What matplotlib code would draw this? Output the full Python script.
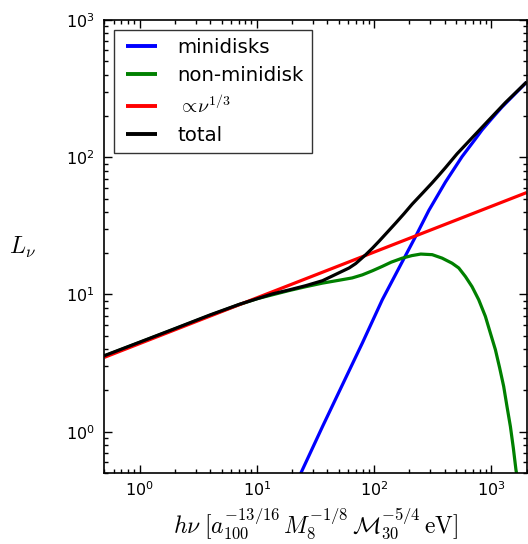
import matplotlib
matplotlib.use("Agg")
import matplotlib.pyplot as plt
from matplotlib.ticker import LogLocator
from matplotlib.lines import Line2D
from matplotlib.legend_handler import HandlerLine2D

plt.rcParams["mathtext.fontset"] = "cm"
plt.rcParams["font.family"] = ["DejaVu Sans"]

# Photon energy (h nu) and luminosity samples for each spectral component
nu_mini = [23.5, 36.3, 53.7, 79.4, 117.4, 173.7, 226, 293, 406, 562, 731, 832, 1012,
           1230, 1946, 2000]
L_mini = [0.49, 1.09, 2.20, 4.43, 9.15, 17.3, 26.5, 41.0, 66.0, 101, 136, 158, 192,
          232, 345, 353]

nu_nonmini = [0.5, 1.0, 2.0, 4.0, 7.1, 10, 13.6, 19, 26.2, 36.3, 50.3, 65, 79.4, 97,
              117, 140, 174, 210, 250, 313, 380, 462, 527, 601, 684, 780, 889, 980,
              1082, 1177, 1273, 1358, 1453, 1539, 1619, 1650]
L_nonmini = [3.56, 4.47, 5.61, 7.05, 8.45, 9.3, 9.95, 10.7, 11.4, 12.1, 12.7, 13.2, 13.9, 14.9,
             16.0, 17.2, 18.4, 19.2, 19.7, 19.5, 18.4, 16.9, 15.6, 13.5, 11.4, 9.15, 6.92, 5.24,
             3.96, 2.91, 2.14, 1.53, 1.09, 0.76, 0.53, 0.48]

nu_pow = [0.5, 2000]
L_pow = [3.48, 55.3]

nu_tot = [0.5, 1.0, 2.0, 4.0, 7.1, 13.6, 18.9, 26.2, 36.3, 50.3, 61.2, 69.7, 84.9, 97,
          110, 130, 153, 180, 211, 260, 312, 357, 406, 510, 731, 948, 1316, 2000]
L_tot = [3.58, 4.49, 5.64, 7.10, 8.48, 10.1, 10.8, 11.6, 12.6, 14.4, 15.6, 16.8, 19.5, 21.8,
         24.4, 28.5, 33.2, 38.8, 45.5, 55.0, 65.0, 74.0, 84.0, 106, 147, 186, 250, 354]

labels = ["minidisks", "non-minidisk", r"$\propto\!\nu^{1/3}$", "total"]
colors = ["blue", "green", "red", "black"]

fig = plt.figure(figsize=(5.28, 5.44), dpi=100)
ax = fig.add_axes([0.1975, 0.1305, 0.8, 0.8327])

series = [(nu_mini, L_mini), (nu_nonmini, L_nonmini), (nu_pow, L_pow), (nu_tot, L_tot)]
for (x, y), lab, c in zip(series, labels, colors):
    ax.plot(x, y, color=c, lw=2.3, label=lab, solid_capstyle="butt",
            solid_joinstyle="round")

ax.set_xscale("log")
ax.set_yscale("log")
ax.set_xlim(0.5, 2000)
ax.set_ylim(0.5, 1000)

ax.xaxis.set_minor_locator(LogLocator(base=10, subs=range(2, 10), numticks=20))
ax.yaxis.set_minor_locator(LogLocator(base=10, subs=range(2, 10), numticks=20))
ax.tick_params(which="both", direction="in", top=True, right=True, labelsize=11.5, width=1)
ax.tick_params(which="major", length=6)
ax.tick_params(which="minor", length=3)
ax.tick_params(axis="x", which="major", pad=5)
ax.tick_params(axis="y", which="major", pad=7)
for s in ax.spines.values():
    s.set_linewidth(1.2)

ax.set_xlabel(r"$h\nu\;[a_{100}^{-13/16}\,M_8^{-1/8}\,\mathcal{M}_{30}^{-5/4}\,\mathrm{eV}]$",
              fontsize=17, labelpad=5)
ax.set_ylabel(r"$L_\nu$", fontsize=17, rotation=0, ha="center", va="bottom")
ax.yaxis.set_label_coords(-0.195, 0.47)

leg = ax.legend(loc="upper left", fontsize=14.2, frameon=True, fancybox=False,
                handlelength=1.75, handletextpad=1.05, borderpad=0.42,
                labelspacing=0.45, borderaxespad=0.5,
                handler_map={Line2D: HandlerLine2D(xpad=0.18)})
leg.get_frame().set_edgecolor("black")
leg.get_frame().set_linewidth(1.0)
for ln in leg.get_lines():
    ln.set_linewidth(2.8)

fig.savefig("out.png", dpi=100)
